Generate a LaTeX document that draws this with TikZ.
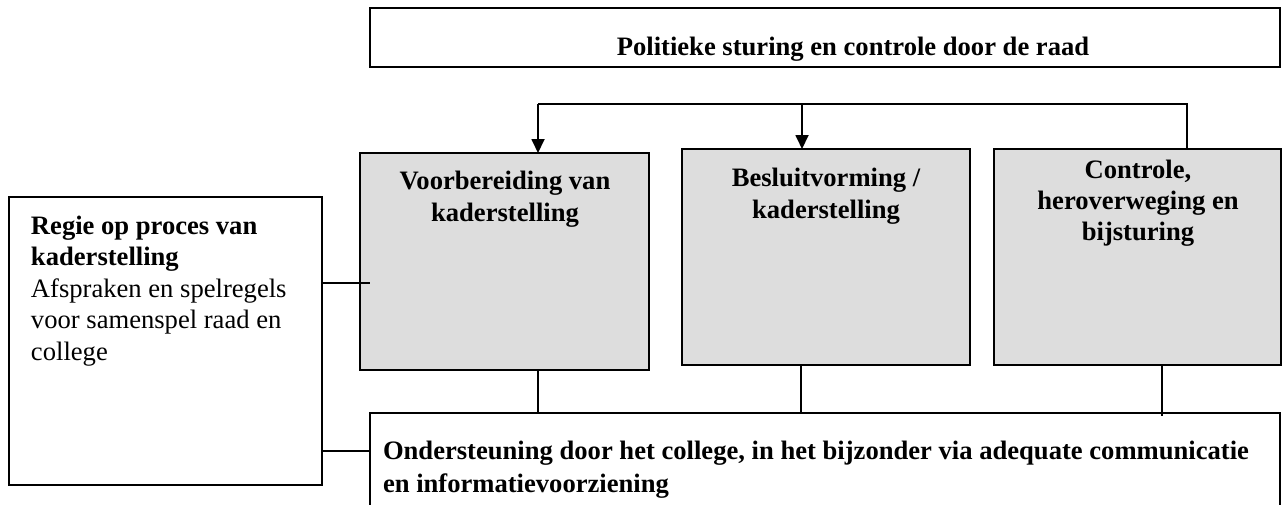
\documentclass[tikz,border=0pt]{standalone}
\usepackage{fontspec}
\setmainfont{Liberation Serif}
\usetikzlibrary{arrows.meta}
\definecolor{boxgray}{HTML}{DDDDDD}
\begin{document}
\begin{tikzpicture}[x=0.5pt,y=-0.5pt,
  box/.style={draw=black, line width=1.1pt, inner sep=0pt, outer sep=0pt, anchor=north west, rectangle},
  graybox/.style={box, fill=boxgray},
  conn/.style={draw=black, line width=0.9pt},
  arr/.style={conn, -{Triangle[length=7pt,width=6.5pt]}},
  txt/.style={inner sep=0pt, outer sep=0pt, font=\fontsize{13.3}{15.75}\selectfont},
  btxt/.style={txt, font=\fontsize{13.3}{15.75}\selectfont\bfseries}
]
\useasboundingbox (0,0) rectangle (1283,504);
% boxes
\node[box, minimum width=455pt, minimum height=29.5pt] (top) at (370,8) {};
\node[box, minimum width=156.5pt, minimum height=144pt] (lb) at (9,197) {};
\node[graybox, minimum width=144.5pt, minimum height=108.5pt] (b1) at (360,153) {};
\node[graybox, minimum width=144pt, minimum height=108pt] (b2) at (682,149) {};
\node[graybox, minimum width=143.5pt, minimum height=108pt] (b3) at (994,149) {};
\node[box, minimum width=455pt, minimum height=60pt] (bot) at (370,413) {};
% texts (anchor=base is the baseline of the last line)
\node[btxt, anchor=base] (ttop) at (853,55) {Politieke sturing en controle door de raad};
\node[btxt, anchor=base, align=center] (t1) at (505,221) {Voorbereiding van\\kaderstelling};
\node[btxt, anchor=base, align=center] (t2) at (826,218) {Besluitvorming /\\kaderstelling};
\node[btxt, anchor=base, align=center, font=\fontsize{13.3}{15.5}\selectfont\bfseries] (t3) at (1138,240) {Controle,\\heroverweging en\\bijsturing};
\node[txt, anchor=base west, align=left] (tl) at (31,360) {\textbf{Regie op proces van}\\\textbf{kaderstelling}\\Afspraken en spelregels\\voor samenspel raad en\\college};
\node[btxt, anchor=base west, align=left, font=\fontsize{13.3}{16.5}\selectfont\bfseries] (tb) at (383,492) {Ondersteuning door het college, in het bijzonder via adequate communicatie\\en informatievoorziening};
% connectors
\coordinate (hl) at (538,104);
\coordinate (hm) at (802,104);
\coordinate (hr) at (1187,104);
\draw[conn] (hr |- b3.north) -- (hr) -- (hl);
\draw[arr] (hl) -- (hl |- b1.north);
\draw[arr] (hm) -- (hm |- b2.north);
\coordinate (c1) at (370,283);
\draw[conn] (c1 -| lb.east) -- (c1);
\coordinate (c2) at (346,451);
\draw[conn] (c2 -| lb.east) -- (c2 -| bot.west);
\draw[conn] (hl |- b1.south) -- (hl |- bot.north);
\coordinate (v2) at (801,0);
\draw[conn] (v2 |- b2.south) -- (v2 |- bot.north);
\coordinate (v3) at (1162,0);
\draw[conn] (v3 |- b3.south) -- ([yshift=-1.5pt]v3 |- bot.north);
\end{tikzpicture}
\end{document}
